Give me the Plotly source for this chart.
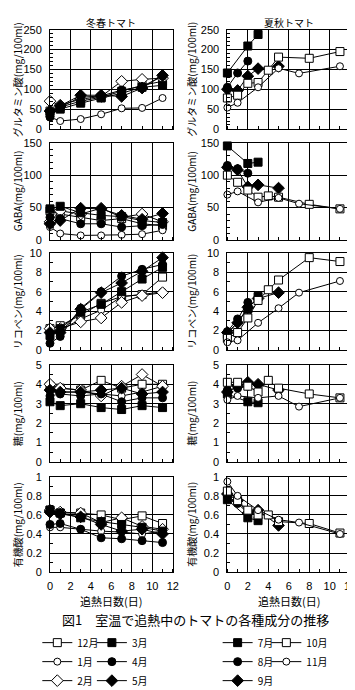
import plotly.graph_objects as go

# ---------------- data ----------------
days_winter = [0, 1, 3, 5, 7, 9, 11]
days_jul = [0, 2, 3]
days_aug = [0, 1, 2]
days_sep = [0, 1, 2, 3, 5]
days_oct = [0, 1, 2, 3, 4, 5, 8, 11]
days_nov = [0, 1, 3, 5, 7, 11]

months_left = ["12月", "1月", "2月", "3月", "4月", "5月"]
months_right = ["7月", "8月", "9月", "10月", "11月"]

# グルタミン酸
glu_12 = [45, 55, 70, 80, 95, 110, 120]
glu_1 = [30, 20, 25, 37, 52, 53, 78]
glu_2 = [70, 60, 75, 82, 120, 125, 128]
glu_3 = [40, 50, 65, 78, 90, 105, 110]
glu_4 = [30, 55, 80, 83, 98, 107, 133]
glu_5 = [45, 58, 85, 85, 82, 103, 135]
glu_7 = [141, 209, 238]
glu_8 = [105, 141, 171]
glu_9 = [100, 97, 133, 152, 158]
glu_10 = [78, 85, 115, 117, 148, 181, 178, 195]
glu_11 = [54, 66, 105, 153, 140, 158]

# GABA
gaba_12 = [45, 40, 35, 30, 33, 25, 22]
gaba_1 = [20, 10, 7, 7, 8, 9, 15]
gaba_2 = [28, 45, 40, 49, 35, 40, 28]
gaba_3 = [48, 52, 42, 38, 36, 30, 27]
gaba_4 = [35, 33, 25, 25, 20, 22, 24]
gaba_5 = [25, 30, 49, 48, 38, 32, 41]
gaba_7 = [145, 118, 120]
gaba_8 = [115, 110, 103]
gaba_9 = [112, 108, 82, 85, 80]
gaba_10 = [100, 89, 77, 66, 68, 66, 55, 48]
gaba_11 = [70, 75, 58, 65, 56, 48]

# リコペン
lyc_12 = [2.2, 2.5, 3.6, 4.8, 5.5, 5.7, 7.5]
lyc_1 = [2.0, 2.0, 3.2, 4.1, 5.5, 5.7, 6.0]
lyc_2 = [2.2, 2.2, 2.9, 3.3, 4.9, 5.6, 5.9]
lyc_3 = [1.5, 2.2, 3.9, 4.7, 6.0, 7.3, 8.5]
lyc_4 = [0.7, 1.4, 4.3, 6.0, 7.6, 8.3, 8.8]
lyc_5 = [1.8, 1.8, 4.2, 5.9, 6.9, 8.1, 9.5]
lyc_7 = [1.6, 4.2, 5.5]
lyc_8 = [1.9, 3.2, 4.9]
lyc_9 = [1.8, 2.8, 4.4, 5.3, 5.9]
lyc_10 = [1.2, 1.8, 3.3, 5.1, 6.2, 7.2, 9.5, 9.1]
lyc_11 = [0.8, 1.0, 2.8, 4.3, 5.9, 7.1]

# 糖
sug_12 = [3.9, 3.8, 3.7, 4.2, 3.8, 4.0, 4.0]
sug_1 = [3.8, 3.6, 3.6, 3.5, 3.4, 3.6, 3.9]
sug_2 = [4.0, 3.8, 3.7, 3.4, 3.9, 4.5, 3.9]
sug_3 = [3.1, 2.9, 3.0, 2.8, 2.7, 2.9, 2.8]
sug_4 = [3.4, 3.5, 3.4, 3.5, 3.1, 3.3, 3.3]
sug_5 = [3.7, 3.6, 3.6, 3.7, 3.8, 3.5, 3.6]
sug_7 = [3.5, 3.1, 3.05]
sug_8 = [3.7, 3.8, 3.9]
sug_9 = [3.6, 3.9, 4.1, 4.0, 3.7]
sug_10 = [4.1, 4.1, 3.9, 3.6, 4.2, 3.8, 3.5, 3.3]
sug_11 = [3.2, 3.4, 3.3, 3.4, 2.85, 3.3]

# 有機酸
acid_12 = [0.65, 0.62, 0.62, 0.60, 0.55, 0.59, 0.51]
acid_1 = [0.47, 0.47, 0.45, 0.43, 0.42, 0.40, 0.43]
acid_2 = [0.65, 0.63, 0.62, 0.52, 0.57, 0.48, 0.45]
acid_3 = [0.65, 0.62, 0.57, 0.53, 0.50, 0.47, 0.43]
acid_4 = [0.50, 0.51, 0.45, 0.36, 0.35, 0.33, 0.31]
acid_5 = [0.63, 0.61, 0.58, 0.50, 0.43, 0.45, 0.40]
acid_7 = [0.76, 0.57, 0.54]
acid_8 = [0.80, 0.72, 0.62]
acid_9 = [0.82, 0.75, 0.62, 0.65, 0.49]
acid_10 = [0.85, 0.75, 0.65, 0.60, 0.60, 0.53, 0.51, 0.41]
acid_11 = [0.95, 0.80, 0.65, 0.55, 0.52, 0.40]

y_titles = ["グルタミン酸(mg/100ml)", "GABA(mg/100ml)", "リコペン(mg/100ml)",
            "糖(mg/100ml)", "有機酸(mg/100ml)"]
y_ranges = [250, 150, 10, 5, 1]
y_dticks = [50, 50, 2, 1, 0.2]
y_minor = [10, 10, 1, 0.5, 0.1]
x_ticks = [0, 2, 4, 6, 8, 10, 12]

left_values = [
    [glu_12, glu_1, glu_2, glu_3, glu_4, glu_5],
    [gaba_12, gaba_1, gaba_2, gaba_3, gaba_4, gaba_5],
    [lyc_12, lyc_1, lyc_2, lyc_3, lyc_4, lyc_5],
    [sug_12, sug_1, sug_2, sug_3, sug_4, sug_5],
    [acid_12, acid_1, acid_2, acid_3, acid_4, acid_5],
]
right_values = [
    [glu_7, glu_8, glu_9, glu_10, glu_11],
    [gaba_7, gaba_8, gaba_9, gaba_10, gaba_11],
    [lyc_7, lyc_8, lyc_9, lyc_10, lyc_11],
    [sug_7, sug_8, sug_9, sug_10, sug_11],
    [acid_7, acid_8, acid_9, acid_10, acid_11],
]
right_days = [days_jul, days_aug, days_sep, days_oct, days_nov]

# ---------------- styles ----------------
W, H = 355, 690
JP = "Noto Sans CJK JP"
NUM = "Liberation Sans, Arial, sans-serif"
style = {
    "12月": ("square", "white", 8), "1月": ("circle", "white", 7), "2月": ("diamond", "white", 9),
    "3月": ("square", "black", 8), "4月": ("circle", "black", 8), "5月": ("diamond", "black", 9),
    "7月": ("square", "black", 8), "8月": ("circle", "black", 8), "9月": ("diamond", "black", 9),
    "10月": ("square", "white", 8), "11月": ("circle", "white", 7),
}
legend_of = {"12月": "legend", "1月": "legend", "2月": "legend",
             "3月": "legend2", "4月": "legend2", "5月": "legend2",
             "7月": "legend3", "8月": "legend3", "9月": "legend3",
             "10月": "legend4", "11月": "legend4"}

col_px = [(40, 166), (222, 348)]
row_px = [(16, 117), (131, 230), (243, 342), (357, 456), (471, 568)]

fig = go.Figure()


def add_series(name, xs, ys, idx, show):
    sym, fill, size = style[name]
    fig.add_trace(go.Scatter(
        x=xs, y=ys, mode="lines+markers", name=name,
        line=dict(color="black", width=1),
        marker=dict(symbol=sym, color=fill, size=size, line=dict(color="black", width=1)),
        xaxis="x" if idx == 1 else f"x{idx}", yaxis="y" if idx == 1 else f"y{idx}",
        showlegend=show, legend=legend_of[name], legendgroup=name,
        cliponaxis=False,
    ))


layout_axes = {}
for r in range(5):
    for c in range(2):
        idx = r * 2 + c + 1
        xk = "xaxis" if idx == 1 else f"xaxis{idx}"
        yk = "yaxis" if idx == 1 else f"yaxis{idx}"
        x0, x1 = col_px[c]
        t, b = row_px[r]
        layout_axes[xk] = dict(
            domain=[x0 / W, x1 / W], range=[0, 12], anchor="y" if idx == 1 else f"y{idx}",
            tickvals=x_ticks, showgrid=True, gridcolor="black", gridwidth=1,
            showline=True, linecolor="black", linewidth=1, mirror=True, zeroline=False,
            ticks="", showticklabels=(r == 4), ticklabelstandoff=4,
            tickfont=dict(family=NUM, size=11, color="black"),
            minor=dict(dtick=1, ticks="inside", ticklen=3, tickcolor="black", showgrid=False),
        )
        layout_axes[yk] = dict(
            domain=[1 - b / H, 1 - t / H], range=[0, y_ranges[r]], anchor="x" if idx == 1 else f"x{idx}",
            dtick=y_dticks[r], showgrid=True, gridcolor="black", gridwidth=1,
            showline=True, linecolor="black", linewidth=1, mirror=True, zeroline=False,
            ticks="", ticklabelstandoff=5,
            tickfont=dict(family=NUM, size=11, color="black"),
            minor=dict(dtick=y_minor[r], ticks="inside", ticklen=3, tickcolor="black", showgrid=False),
        )
        if c == 0:
            for name, ys in zip(months_left, left_values[r]):
                add_series(name, days_winter, ys, idx, r == 0)
        else:
            for name, xs, ys in zip(months_right, right_days, right_values[r]):
                add_series(name, xs, ys, idx, r == 0)


def txt(text, xpx, ypx, size, angle=0):
    return dict(text=text, x=xpx / W, y=1 - ypx / H, xref="paper", yref="paper",
                textangle=angle, showarrow=False, font=dict(family=JP, size=size, color="black"),
                xanchor="center", yanchor="middle")


annotations = []
for r in range(5):
    t, b = row_px[r]
    for xc in (7, 185):
        annotations.append(txt(y_titles[r], xc, (t + b) / 2, 10, -90))
for xc in (103, 285):
    annotations.append(txt("追熱日数(日)", xc, 597, 11))
annotations.append(txt("冬春トマト", 103, 9, 10))
annotations.append(txt("夏秋トマト", 285, 9, 10))
annotations.append(txt("図1　室温で追熱中のトマトの各種成分の推移", 189, 616, 13))


def leg(xpx, ypx):
    return dict(x=xpx / W, y=1 - ypx / H, xanchor="left", yanchor="top", orientation="v",
                bgcolor="rgba(0,0,0,0)", borderwidth=0, font=dict(family=JP, size=10, color="black"),
                traceorder="grouped", tracegroupgap=0, itemclick=False, itemdoubleclick=False)


fig.update_layout(
    width=W, height=H, autosize=False,
    margin=dict(l=0, r=0, t=0, b=0),
    paper_bgcolor="white", plot_bgcolor="white",
    font=dict(family=JP, color="black"),
    annotations=annotations,
    legend=leg(27, 625), legend2=leg(83, 625), legend3=leg(212, 625), legend4=leg(262, 625),
    **layout_axes,
)

fig.write_html("out.html")
